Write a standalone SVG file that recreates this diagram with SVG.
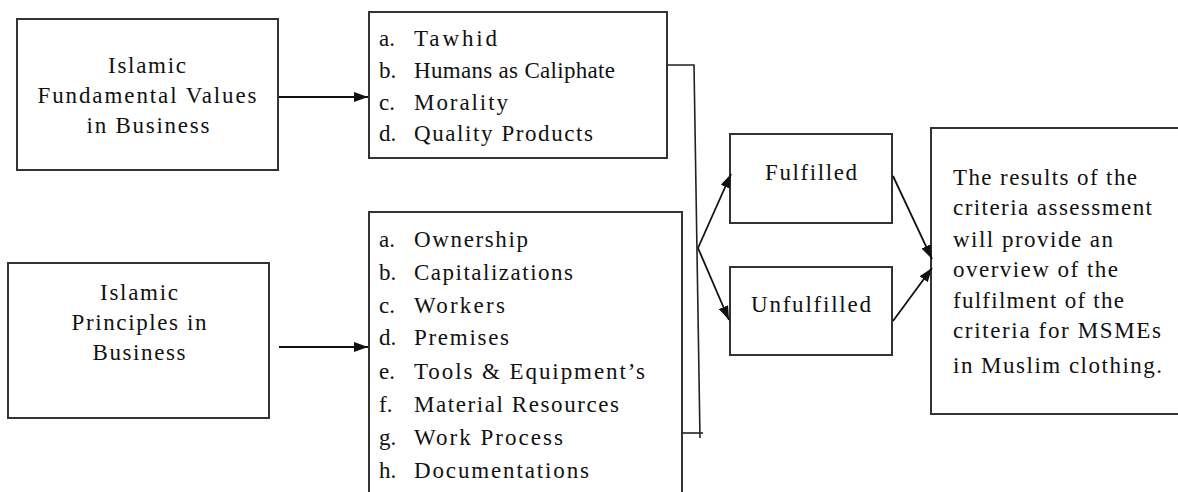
<svg xmlns="http://www.w3.org/2000/svg" width="1178" height="492" viewBox="0 0 1178 492">
<defs>
<marker id="ah" markerWidth="14" markerHeight="10" refX="14" refY="5" orient="auto" markerUnits="userSpaceOnUse">
<path d="M0,0 L14,5 L0,10 Z" fill="#111"/>
</marker>
<style>
.box{fill:#fff;stroke:#333;stroke-width:2}
.t{font-family:"Liberation Serif","Times New Roman",serif;font-size:23px;fill:#111}
.ln{fill:none;stroke:#222;stroke-width:1.6}
.ar{fill:none;stroke:#111;stroke-width:1.8;marker-end:url(#ah)}
</style>
</defs>
<rect width="1178" height="492" fill="#fff"/>

<g id="values">
<rect class="box" x="17" y="19" width="261" height="151"/>
<text class="t" x="147" y="73" textLength="78" lengthAdjust="spacing" text-anchor="middle">Islamic</text>
<text class="t" x="147" y="103" textLength="219" lengthAdjust="spacing" text-anchor="middle">Fundamental Values</text>
<text class="t" x="148" y="133" textLength="123" lengthAdjust="spacing" text-anchor="middle">in Business</text>
</g>

<g id="values-list">
<rect class="box" x="369" y="12" width="298" height="146"/>
<text class="t" x="379" y="46">a.</text><text class="t" x="414" y="46" textLength="83" lengthAdjust="spacing">Tawhid</text>
<text class="t" x="379" y="78">b.</text><text class="t" x="414" y="78" textLength="201" lengthAdjust="spacing">Humans as Caliphate</text>
<text class="t" x="379" y="110">c.</text><text class="t" x="414" y="110" textLength="94" lengthAdjust="spacing">Morality</text>
<text class="t" x="379" y="141">d.</text><text class="t" x="414" y="141" textLength="179" lengthAdjust="spacing">Quality Products</text>
</g>

<g id="principles">
<rect class="box" x="8" y="263" width="261" height="155"/>
<text class="t" x="139" y="300" textLength="78" lengthAdjust="spacing" text-anchor="middle">Islamic</text>
<text class="t" x="139" y="330" textLength="135" lengthAdjust="spacing" text-anchor="middle">Principles in</text>
<text class="t" x="139" y="360" textLength="93" lengthAdjust="spacing" text-anchor="middle">Business</text>
</g>

<g id="principles-list">
<rect class="box" x="369" y="212" width="313" height="300"/>
<text class="t" x="379" y="247">a.</text><text class="t" x="414" y="247" textLength="114" lengthAdjust="spacing">Ownership</text>
<text class="t" x="379" y="280">b.</text><text class="t" x="414" y="280" textLength="159" lengthAdjust="spacing">Capitalizations</text>
<text class="t" x="379" y="313">c.</text><text class="t" x="414" y="313" textLength="91" lengthAdjust="spacing">Workers</text>
<text class="t" x="379" y="345">d.</text><text class="t" x="414" y="345" textLength="95" lengthAdjust="spacing">Premises</text>
<text class="t" x="379" y="379">e.</text><text class="t" x="414" y="379" textLength="231" lengthAdjust="spacing">Tools &amp; Equipment’s</text>
<text class="t" x="379" y="412">f.</text><text class="t" x="414" y="412" textLength="205" lengthAdjust="spacing">Material Resources</text>
<text class="t" x="379" y="445">g.</text><text class="t" x="414" y="445" textLength="149" lengthAdjust="spacing">Work Process</text>
<text class="t" x="379" y="478">h.</text><text class="t" x="414" y="478" textLength="175" lengthAdjust="spacing">Documentations</text>
</g>

<g id="fulfilled">
<rect class="box" x="730" y="134" width="162" height="89"/>
<text class="t" x="811" y="180" textLength="92" lengthAdjust="spacing" text-anchor="middle">Fulfilled</text>
</g>

<g id="unfulfilled">
<rect class="box" x="730" y="267" width="162" height="88"/>
<text class="t" x="811" y="312" textLength="120" lengthAdjust="spacing" text-anchor="middle">Unfulfilled</text>
</g>

<g id="result">
<rect class="box" x="931" y="128" width="260" height="286"/>
<text class="t" x="953" y="185" textLength="184" lengthAdjust="spacing">The results of the</text>
<text class="t" x="953" y="215" textLength="199" lengthAdjust="spacing">criteria assessment</text>
<text class="t" x="953" y="247" textLength="160" lengthAdjust="spacing">will provide an</text>
<text class="t" x="953" y="277" textLength="165" lengthAdjust="spacing">overview of the</text>
<text class="t" x="953" y="308" textLength="171" lengthAdjust="spacing">fulfilment of the</text>
<text class="t" x="953" y="338" textLength="208" lengthAdjust="spacing">criteria for MSMEs</text>
<text class="t" x="953" y="373" textLength="209" lengthAdjust="spacing">in Muslim clothing.</text>
</g>

<g id="connectors">
<line class="ar" x1="279" y1="97" x2="368" y2="97"/>
<line class="ar" x1="279" y1="347" x2="368" y2="347"/>
<polyline class="ln" points="667,65 694,65 700,438"/>
<line class="ln" x1="682" y1="433" x2="703" y2="433"/>
<line class="ar" x1="698" y1="248" x2="731" y2="174"/>
<line class="ar" x1="698" y1="248" x2="729" y2="320"/>
<line class="ar" x1="893" y1="176" x2="932" y2="259"/>
<line class="ar" x1="893" y1="321" x2="932" y2="268"/>
</g>
</svg>
